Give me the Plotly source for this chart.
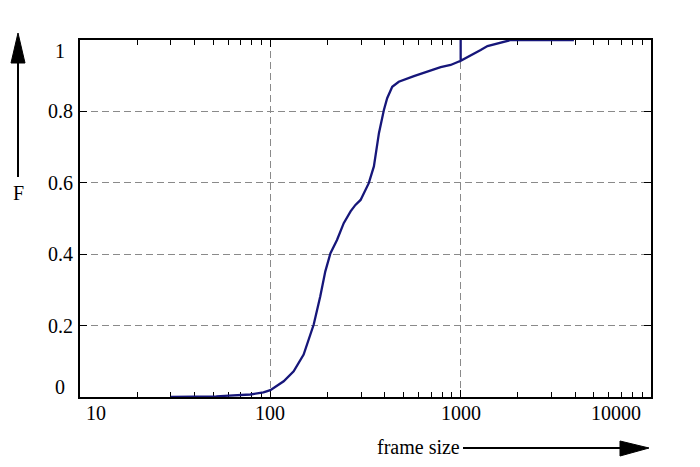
import math
import plotly.graph_objects as go

# ---- data ----
frame_size = [30, 52, 78.5, 92, 100, 117.5, 132.6, 149.6, 169, 183, 194.5, 207, 224, 243,
              264, 280, 298, 329, 350, 372, 395, 411, 437, 473, 568, 668, 785, 886,
              1000, 1000, 1000, 1274, 1383, 1833, 3935]
cdf = [0, 0.002, 0.007, 0.013, 0.019, 0.044, 0.072, 0.119, 0.203, 0.282, 0.352, 0.403, 0.44, 0.487,
       0.52, 0.538, 0.552, 0.599, 0.646, 0.739, 0.804, 0.837, 0.869, 0.883, 0.899, 0.911, 0.924, 0.93,
       0.942, 1.0, 0.942, 0.972, 0.983, 1.0, 1.0]

x_ticks = [10, 100, 1000, 10000]
x_tick_labels = ["10", "100", "1000", "10000"]
y_ticks = [0, 0.2, 0.4, 0.6, 0.8, 1]
y_tick_labels = ["0", "0.2", "0.4", "0.6", "0.8", "1"]

OFF = 8  # page body margin
W, H = 692, 459
ML, MR, MT, MB = 72, 49, 32, 70
PW, PH = W - ML - MR, H - MT - MB


def px(x):
    return (x - OFF - ML) / PW


def py(y):
    return (H + OFF - MB - y) / PH


FONT = "Liberation Serif"
fs = 20

fig = go.Figure()
fig.add_trace(go.Scatter(x=frame_size, y=cdf, mode="lines",
                         line=dict(color="#16167a", width=2.3),
                         cliponaxis=False, showlegend=False))

fig.update_xaxes(type="log", range=[1, 4], tickvals=x_ticks, showticklabels=False,
                 ticks="inside", ticklen=7, tickcolor="black", tickwidth=1,
                 minor=dict(dtick="D1", ticks="inside", ticklen=5, tickcolor="black",
                            tickwidth=1, showgrid=False),
                 showline=True, linecolor="black", linewidth=2, mirror="allticks",
                 showgrid=True, gridcolor="#8a8a8a", gridwidth=1, griddash="7px,4px",
                 zeroline=False, layer="below traces")
fig.update_yaxes(range=[0, 1], tickvals=y_ticks, showticklabels=False,
                 ticks="inside", ticklen=7, tickcolor="black", tickwidth=1,
                 showline=True, linecolor="black", linewidth=2, mirror="allticks",
                 showgrid=True, gridcolor="#8a8a8a", gridwidth=1, griddash="7px,4px",
                 zeroline=False, layer="below traces")

ann = []
# x tick labels
for v, t in zip(x_ticks, x_tick_labels):
    xa, xs = "center", 0
    if v == x_ticks[0]:
        xa, xs = "left", 4
    elif v == x_ticks[-1]:
        xa, xs = "right", -8
    ann.append(dict(x=math.log10(v), y=0, xref="x", yref="paper", text=t, showarrow=False,
                    xanchor=xa, yanchor="top", xshift=xs, yshift=-3,
                    font=dict(family=FONT, size=fs, color="black")))
# y tick labels
for v, t in zip(y_ticks, y_tick_labels):
    ys = 0
    if v == y_ticks[0]:
        ys = 10
    elif v == y_ticks[-1]:
        ys = -11
    ann.append(dict(x=0, y=v, xref="paper", yref="y", text=t, showarrow=False,
                    xanchor="center", yanchor="middle", xshift=-20, yshift=ys,
                    font=dict(family=FONT, size=fs, color="black")))
# axis titles
ann.append(dict(x=px(18), y=py(193), xref="paper", yref="paper", text="F", showarrow=False,
                xanchor="center", yanchor="middle", font=dict(family=FONT, size=fs, color="black")))
ann.append(dict(x=px(462), y=py(447), xref="paper", yref="paper", text="frame size",
                showarrow=False, xanchor="right", yanchor="middle",
                font=dict(family=FONT, size=fs, color="black")))

shapes = [
    dict(type="line", xref="paper", yref="paper", x0=px(18), x1=px(18), y0=py(177), y1=py(58),
         line=dict(color="black", width=2)),
    dict(type="path", xref="paper", yref="paper",
         path=f"M {px(18)} {py(33)} L {px(11)} {py(63)} L {px(25)} {py(63)} Z",
         fillcolor="black", line=dict(color="black", width=1)),
    dict(type="line", xref="paper", yref="paper", x0=px(463), x1=px(625), y0=py(448), y1=py(448),
         line=dict(color="black", width=2)),
    dict(type="path", xref="paper", yref="paper",
         path=f"M {px(649)} {py(448)} L {px(620)} {py(441)} L {px(620)} {py(456)} Z",
         fillcolor="black", line=dict(color="black", width=1)),
]

fig.update_layout(width=W, height=H, margin=dict(l=ML, r=MR, t=MT, b=MB),
                  paper_bgcolor="white", plot_bgcolor="white",
                  annotations=ann, shapes=shapes, showlegend=False)

fig.write_html("out.html")
